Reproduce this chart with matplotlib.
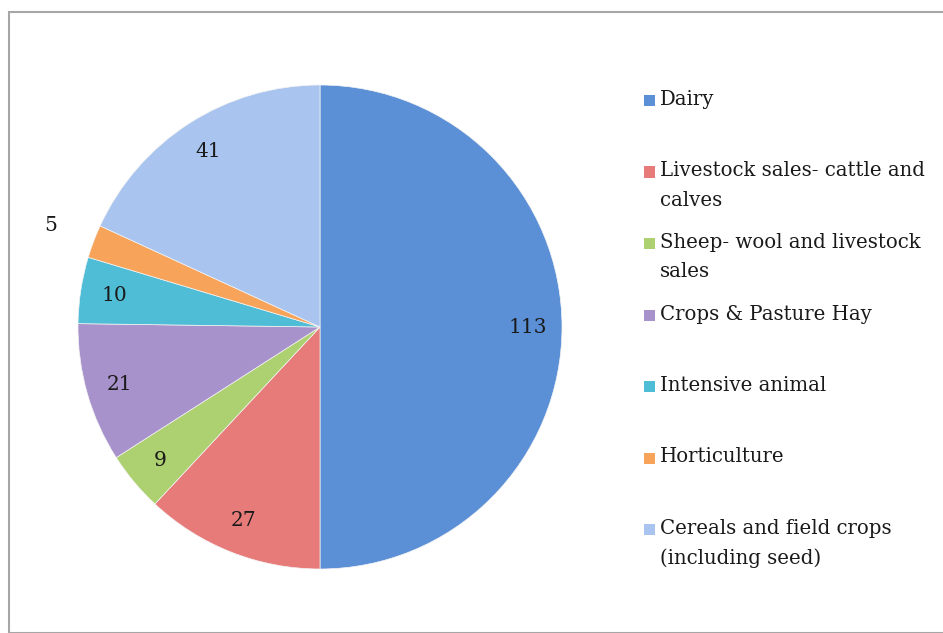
import matplotlib.pyplot as plt
from matplotlib.patches import Rectangle

labels = ['Dairy', 'Livestock sales- cattle and\ncalves', 'Sheep- wool and livestock\nsales',
          'Crops & Pasture Hay', 'Intensive animal', 'Horticulture',
          'Cereals and field crops\n(including seed)']
values = [113, 27, 9, 21, 10, 5, 41]
colors = ['#5b8fd6', '#e67b79', '#add070', '#a892cc', '#4fbdd6', '#f7a35a', '#a9c4ee']

plt.rcParams['font.family'] = ['DejaVu Serif']

fig = plt.figure(figsize=(9.43, 6.33), dpi=100)
W, H = 943, 633

# grey frame round the chart area
fig.patches.append(Rectangle((9 / W, 0), 1, 1 - 12 / H, transform=fig.transFigure,
                             fill=False, edgecolor='#a6a6a6', linewidth=1.5))

ax = fig.add_axes([78 / W, 1 - 569 / H, 484 / W, 484 / H])
wedges, texts = ax.pie(values, colors=colors, startangle=90, counterclock=False,
                       labels=[str(v) for v in values], labeldistance=0.86,
                       wedgeprops=dict(linewidth=0.5, edgecolor='#f4f4f4'),
                       textprops=dict(fontsize=14.5, color='#1a1a1a', ha='center', va='center'))
# the small slice keeps its label outside
x, y = texts[5].get_position()
texts[5].set_position((x * 1.19 / 0.86, y * 1.19 / 0.86))
for t in texts:
    t.set_ha('center')
ax.set_xlim(-1, 1)
ax.set_ylim(-1, 1)

# legend, first line of each entry on an even step
top = 101
step = 71.5
for i, (lab, c) in enumerate(zip(labels, colors)):
    yy = top + i * step
    fig.patches.append(Rectangle((644 / W, 1 - (yy + 5) / H), 11 / W, 11 / H,
                                 transform=fig.transFigure, facecolor=c, edgecolor='none'))
    fig.text(660 / W, 1 - (yy - 11) / H, lab, fontsize=14.2, color='#1a1a1a',
             va='top', ha='left', linespacing=1.67)

fig.savefig('out.png', dpi=100)
